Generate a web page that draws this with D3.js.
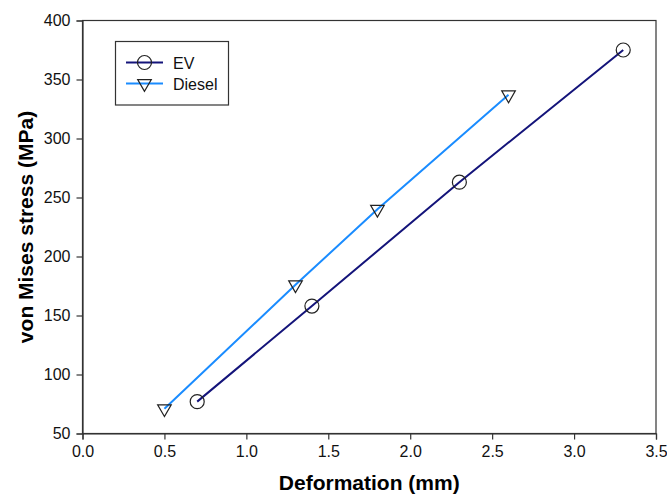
<!DOCTYPE html>
<html>
<head>
<meta charset="utf-8">
<script src="https://cdn.jsdelivr.net/npm/d3@7"></script>
<style>
  body { margin: 0; background: #fff; }
  svg { font-family: "Liberation Sans", Arial, sans-serif; }
</style>
</head>
<body>
<div id="chart"></div>
<script>
// Data
const evX = [0.7, 1.4, 2.3, 3.3];
const evY = [77, 158, 263, 375];
const dieselX = [0.5, 1.3, 1.8, 2.6];
const dieselY = [71, 176, 240, 337];
const xTicks = [0, 0.5, 1, 1.5, 2, 2.5, 3, 3.5];
const yTicks = [50, 100, 150, 200, 250, 300, 350, 400];

const series = [
    { name: "EV", xs: evX, ys: evY, color: "#14147a", marker: "circle" },
    { name: "Diesel", xs: dieselX, ys: dieselY, color: "#1a8cff", marker: "triangle" }
];

const width = 667, height = 496;
const margin = { left: 82.5, right: 11, top: 20.5, bottom: 62.5 };

const svg = d3.select('#chart').append('svg')
    .attr('width', width)
    .attr('height', height);

const x = d3.scaleLinear().domain([0, 3.5]).range([margin.left, width - margin.right]);
const y = d3.scaleLinear().domain([50, 400]).range([height - margin.bottom, margin.top]);

// frame
svg.append('rect')
    .attr('x', x(0)).attr('y', y(400))
    .attr('width', x(3.5) - x(0)).attr('height', y(50) - y(400))
    .attr('fill', 'none').attr('stroke', '#333').attr('stroke-width', 1.2);

// axes
const xAxis = svg.append('g')
    .attr('transform', `translate(0,${y(50)})`)
    .call(d3.axisBottom(x).tickValues(xTicks).tickFormat(d3.format('.1f')).tickSize(6).tickPadding(6));
const yAxis = svg.append('g')
    .attr('transform', `translate(${x(0)},0)`)
    .call(d3.axisLeft(y).tickValues(yTicks).tickSize(6).tickPadding(6));

[xAxis, yAxis].forEach(g => {
    g.select('.domain').attr('stroke', '#333').attr('stroke-width', 1.2);
    g.selectAll('.tick line').attr('stroke', '#333').attr('stroke-width', 1.2);
    g.selectAll('.tick text')
        .attr('fill', '#111')
        .style('font-size', '16px')
        .style('font-family', '"Liberation Sans", Arial, sans-serif');
});

// axis titles
svg.append('text')
    .attr('x', (x(0) + x(3.5)) / 2).attr('y', 490)
    .attr('text-anchor', 'middle')
    .style('font-size', '21px').style('font-weight', 'bold')
    .text('Deformation (mm)');

svg.append('text')
    .attr('transform', `translate(33,${(y(50) + y(400)) / 2}) rotate(-90)`)
    .attr('text-anchor', 'middle')
    .style('font-size', '21px').style('font-weight', 'bold')
    .text('von Mises stress (MPa)');

// marker drawing
function drawMarker(g, type, cx, cy) {
    if (type === 'circle') {
        g.append('circle')
            .attr('cx', cx).attr('cy', cy).attr('r', 7)
            .attr('fill', 'none').attr('stroke', '#222').attr('stroke-width', 1.2);
    } else {
        const s = d3.symbol().type(d3.symbolTriangle).size(80);
        g.append('path')
            .attr('d', s())
            .attr('transform', `translate(${cx},${cy}) rotate(180)`)
            .attr('fill', 'none').attr('stroke', '#222').attr('stroke-width', 1.2);
    }
}

const line = d3.line().x(d => x(d[0])).y(d => y(d[1]));

series.forEach(s => {
    const pts = s.xs.map((v, i) => [v, s.ys[i]]);
    svg.append('path')
        .datum(pts)
        .attr('d', line)
        .attr('fill', 'none')
        .attr('stroke', s.color)
        .attr('stroke-width', 2);
    const g = svg.append('g');
    pts.forEach(p => drawMarker(g, s.marker, x(p[0]), y(p[1])));
});

// legend
const legend = svg.append('g');
legend.append('rect')
    .attr('x', 115.5).attr('y', 41.5)
    .attr('width', 113).attr('height', 63.5)
    .attr('fill', '#fff').attr('stroke', '#333').attr('stroke-width', 1.2);

series.forEach((s, i) => {
    const ly = 62.5 + i * 21;
    legend.append('line')
        .attr('x1', 126).attr('x2', 163)
        .attr('y1', ly).attr('y2', ly)
        .attr('stroke', s.color).attr('stroke-width', 2);
    drawMarker(legend, s.marker, 144.5, ly);
    legend.append('text')
        .attr('x', 173).attr('y', ly + 6)
        .style('font-size', '16px')
        .attr('fill', '#111')
        .text(s.name);
});
</script>
</body>
</html>
